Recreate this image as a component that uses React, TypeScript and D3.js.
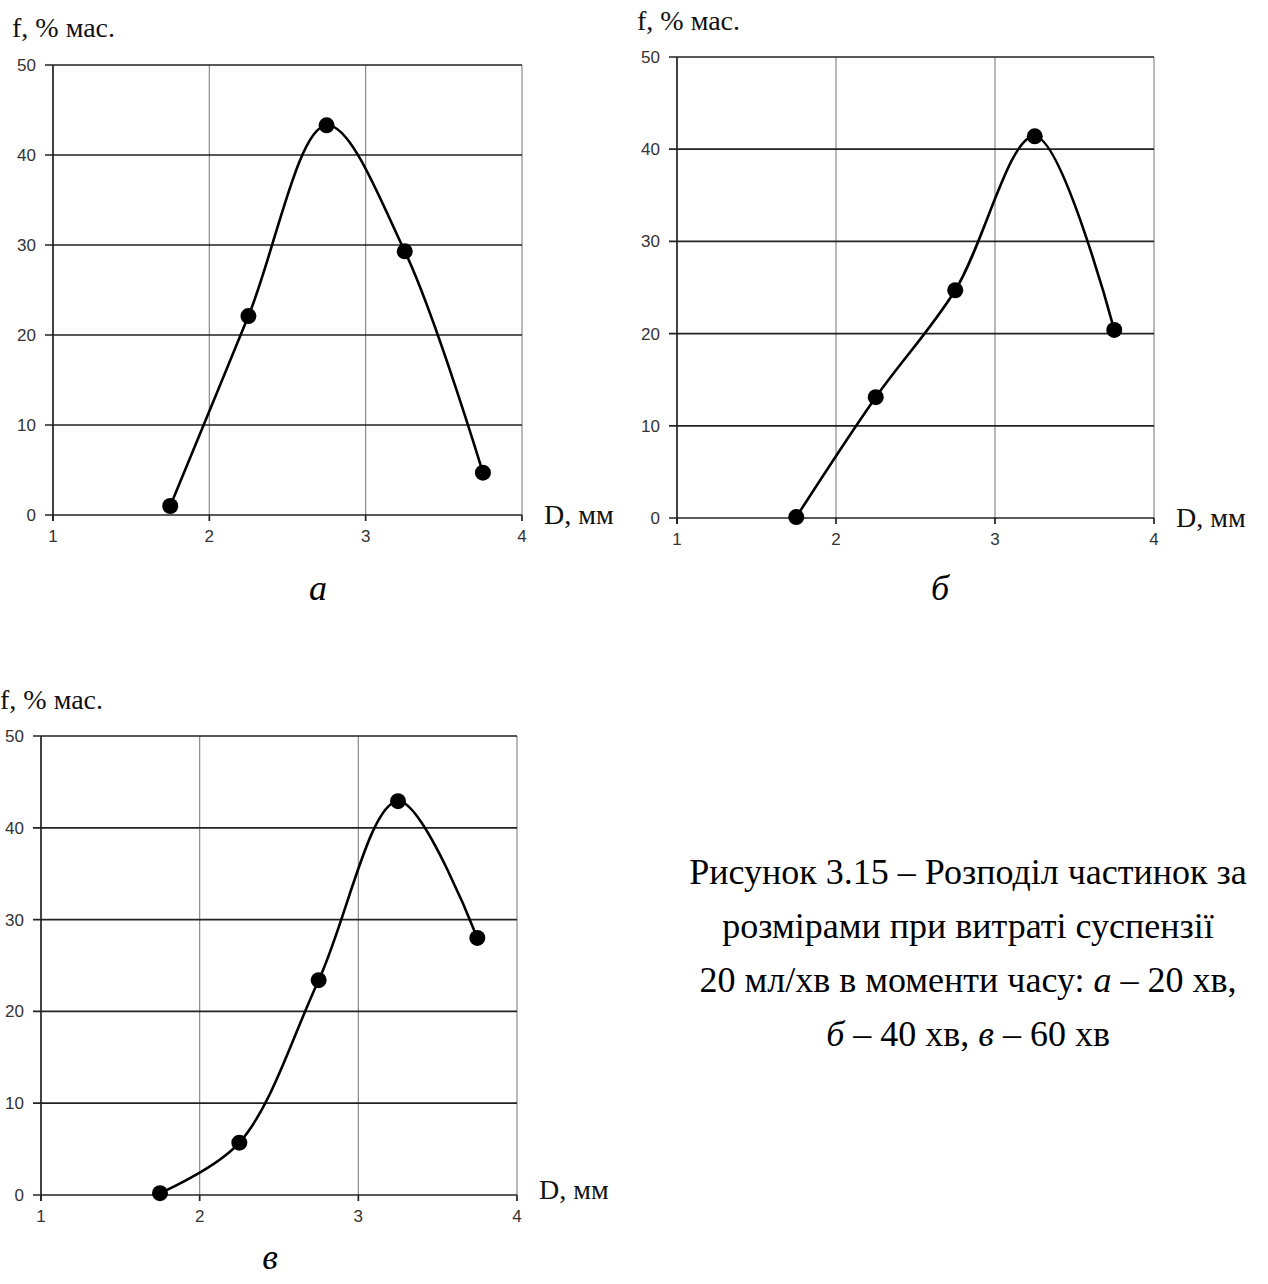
import React, { useEffect, useRef } from "react";
import * as d3 from "d3";

// D, mm (same for all three panels)
const diameters = [1.75, 2.25, 2.75, 3.25, 3.75];
// f, % mass at 20, 40 and 60 min
const fracA = [1.0, 22.1, 43.3, 29.3, 4.7];
const fracB = [0.1, 13.1, 24.7, 41.4, 20.4];
const fracC = [0.2, 5.7, 23.4, 42.9, 28.0];

const xTicks = [1, 2, 3, 4];
const yTicks = [0, 10, 20, 30, 40, 50];

const captionLines = [
  ["Рисунок 3.15 – Розподіл частинок за"],
  ["розмірами при витраті суспензії"],
  ["20 мл/хв в моменти часу: ", "а", " – 20 хв,"],
  ["", "б", " – 40 хв, ", "в", " – 60 хв"],
];

const panels = [
  { values: fracA, left: 53, right: 522, top: 65, bottom: 515, letter: "а", letterX: 318, letterY: 600, yLabelX: 12, yLabelY: 37, dLabelDy: 9 },
  { values: fracB, left: 677, right: 1154, top: 57, bottom: 518, letter: "б", letterX: 940, letterY: 600, yLabelX: 637, yLabelY: 30, dLabelDy: 9 },
  { values: fracC, left: 41, right: 517, top: 736, bottom: 1195, letter: "в", letterX: 270, letterY: 1269, yLabelX: 0, yLabelY: 709, dLabelDy: 4 },
];

const serif = "'Liberation Serif', 'DejaVu Serif', serif";
const sans = "'Liberation Sans', Arial, sans-serif";

const App = () => {
  const ref = useRef<SVGSVGElement>(null);

  useEffect(() => {
    const svg = d3.select(ref.current);
    svg.selectAll("*").remove();

    panels.forEach((p) => {
      const x = d3.scaleLinear().domain([1, 4]).range([p.left, p.right]);
      const y = d3.scaleLinear().domain([0, 50]).range([p.bottom, p.top]);
      const g = svg.append("g");

      // vertical grid (light gray)
      g.selectAll(".vgrid")
        .data(xTicks.slice(1))
        .enter()
        .append("line")
        .attr("x1", (d) => x(d))
        .attr("x2", (d) => x(d))
        .attr("y1", y(50))
        .attr("y2", y(0))
        .attr("stroke", "#8a8a8a")
        .attr("stroke-width", 1.2);

      // horizontal grid (dark)
      g.selectAll(".hgrid")
        .data(yTicks)
        .enter()
        .append("line")
        .attr("x1", x(1) - 8)
        .attr("x2", x(4))
        .attr("y1", (d) => y(d))
        .attr("y2", (d) => y(d))
        .attr("stroke", "#222")
        .attr("stroke-width", 1.7);

      // y axis
      g.append("line")
        .attr("x1", x(1))
        .attr("x2", x(1))
        .attr("y1", y(50))
        .attr("y2", y(0) + 6)
        .attr("stroke", "#222")
        .attr("stroke-width", 1.7);

      // x ticks
      g.selectAll(".xtick")
        .data(xTicks)
        .enter()
        .append("line")
        .attr("x1", (d) => x(d))
        .attr("x2", (d) => x(d))
        .attr("y1", y(0))
        .attr("y2", y(0) + 6)
        .attr("stroke", "#222")
        .attr("stroke-width", 1.7);

      g.selectAll(".xlab")
        .data(xTicks)
        .enter()
        .append("text")
        .attr("x", (d) => x(d))
        .attr("y", y(0) + 27)
        .attr("text-anchor", "middle")
        .attr("font-family", sans)
        .attr("font-size", 17)
        .attr("fill", "#333")
        .text((d) => d);

      g.selectAll(".ylab")
        .data(yTicks)
        .enter()
        .append("text")
        .attr("x", x(1) - 17)
        .attr("y", (d) => y(d) + 6)
        .attr("text-anchor", "end")
        .attr("font-family", sans)
        .attr("font-size", 17)
        .attr("fill", "#333")
        .text((d) => d);

      // curve
      const pts = diameters.map((d, i) => [d, p.values[i]] as [number, number]);
      const line = d3
        .line<[number, number]>()
        .x((d) => x(d[0]))
        .y((d) => y(d[1]))
        .curve(d3.curveCatmullRom.alpha(0.5));
      g.append("path")
        .attr("d", line(pts))
        .attr("fill", "none")
        .attr("stroke", "#000")
        .attr("stroke-width", 2.6);

      g.selectAll(".pt")
        .data(pts)
        .enter()
        .append("circle")
        .attr("cx", (d) => x(d[0]))
        .attr("cy", (d) => y(d[1]))
        .attr("r", 8)
        .attr("fill", "#000");

      // axis titles
      g.append("text")
        .attr("x", p.yLabelX)
        .attr("y", p.yLabelY)
        .attr("font-family", serif)
        .attr("font-size", 28)
        .attr("fill", "#111")
        .text("f, % мас.");
      g.append("text")
        .attr("x", x(4) + 22)
        .attr("y", y(0) + p.dLabelDy)
        .attr("font-family", serif)
        .attr("font-size", 28)
        .attr("fill", "#111")
        .text("D, мм");

      g.append("text")
        .attr("x", p.letterX)
        .attr("y", p.letterY)
        .attr("text-anchor", "middle")
        .attr("font-family", serif)
        .attr("font-style", "italic")
        .attr("font-size", 36)
        .attr("fill", "#000")
        .text(p.letter);
    });

    // figure caption
    const cap = svg
      .append("text")
      .attr("font-family", serif)
      .attr("font-size", 36)
      .attr("fill", "#000")
      .attr("text-anchor", "middle");
    captionLines.forEach((parts, i) => {
      const t = cap.append("tspan").attr("x", 968).attr("y", 884 + i * 54);
      parts.forEach((s, j) => {
        t.append("tspan")
          .attr("font-style", j % 2 === 1 ? "italic" : "normal")
          .text(s);
      });
    });
  }, []);

  return (
    <svg
      ref={ref}
      width={1268}
      height={1284}
      style={{ position: "absolute", left: 0, top: 0, background: "#fff" }}
    />
  );
};

export default App;
